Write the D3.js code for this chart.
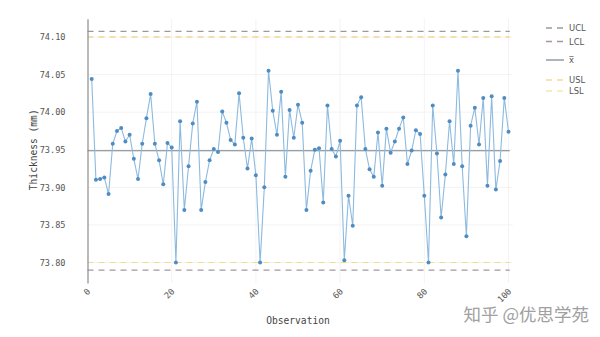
<!DOCTYPE html>
<html>
<head>
<meta charset="utf-8">
<script src="https://cdn.jsdelivr.net/npm/d3@7"></script>
<style>
  html, body { margin: 0; padding: 0; background: #fff; }
  svg { display: block; }
</style>
</head>
<body>
<svg id="chart" width="600" height="337"></svg>
<script>
// Thickness measurements for 100 consecutive observations (mm)
const observations = d3.range(1, 101);
const thickness = [
  74.044, 73.910, 73.911, 73.913, 73.891, 73.958, 73.975, 73.979, 73.961, 73.970,
  73.938, 73.911, 73.958, 73.992, 74.024, 73.958, 73.936, 73.904, 73.959, 73.953,
  73.800, 73.988, 73.870, 73.928, 73.985, 74.014, 73.870, 73.907, 73.936, 73.951,
  73.947, 74.001, 73.986, 73.963, 73.957, 74.025, 73.966, 73.925, 73.965, 73.916,
  73.800, 73.900, 74.055, 74.002, 73.970, 74.027, 73.914, 74.003, 73.966, 74.010,
  73.986, 73.870, 73.922, 73.950, 73.952, 73.880, 74.009, 73.951, 73.941, 73.962,
  73.803, 73.889, 73.849, 74.009, 74.020, 73.951, 73.924, 73.914, 73.973, 73.902,
  73.978, 73.946, 73.961, 73.978, 73.993, 73.931, 73.949, 73.976, 73.971, 73.889,
  73.800, 74.009, 73.945, 73.860, 73.917, 73.988, 73.931, 74.055, 73.928, 73.835,
  73.982, 74.006, 73.957, 74.019, 73.902, 74.021, 73.897, 73.935, 74.019, 73.974
];

// Control and specification limits
const limitNames  = ["UCL", "LCL", "x\u0305", "USL", "LSL"];
const limitValues = [74.1075, 73.7898, 73.9487, 74.10, 73.80];

const xTicks = [0, 20, 40, 60, 80, 100];
const yTicks = [73.80, 73.85, 73.90, 73.95, 74.00, 74.05, 74.10];

const svg = d3.select("#chart");

const x = d3.scaleLinear().domain([0, 100]).range([87.5, 508.5]);
const y = d3.scaleLinear().domain([73.7728, 74.1243]).range([283, 18.7]);

const mono = "'DejaVu Sans Mono', monospace";

// Light grid
const grid = svg.append("g");
grid.selectAll("line.gx").data(xTicks.slice(1)).join("line")
  .attr("x1", d => x(d)).attr("x2", d => x(d))
  .attr("y1", y.range()[1]).attr("y2", y.range()[0])
  .attr("stroke", "#f3f3f3").attr("stroke-width", 1);
grid.selectAll("line.gy").data(yTicks).join("line")
  .attr("x1", x(0)).attr("x2", x(101))
  .attr("y1", d => y(d)).attr("y2", d => y(d))
  .attr("stroke", "#f3f3f3").attr("stroke-width", 1);

// Limit lines
const limitStyle = {
  "UCL": { color: "#9a9a9a", dash: "6,5", width: 1.3 },
  "LCL": { color: "#a497a2", dash: "6,5", width: 1.3 },
  "x\u0305": { color: "#76828d", dash: null, width: 1.2 },
  "USL": { color: "#f0c860", dash: "6,5", width: 1.1 },
  "LSL": { color: "#ece08a", dash: "6,5", width: 1.1 }
};
const limits = limitNames.map((n, i) => ({ name: n, value: limitValues[i] }));

svg.append("g").selectAll("line").data(limits).join("line")
  .attr("x1", x(0)).attr("x2", x(100.3))
  .attr("y1", d => y(d.value)).attr("y2", d => y(d.value))
  .attr("stroke", d => limitStyle[d.name].color)
  .attr("stroke-width", d => limitStyle[d.name].width)
  .attr("stroke-dasharray", d => limitStyle[d.name].dash);

// Measurement series
const series = observations.map((o, i) => ({ o, v: thickness[i] }));
svg.append("path").datum(series)
  .attr("fill", "none")
  .attr("stroke", "#8dbadf")
  .attr("stroke-width", 1.1)
  .attr("d", d3.line().x(d => x(d.o)).y(d => y(d.v)));
svg.append("g").selectAll("circle").data(series).join("circle")
  .attr("cx", d => x(d.o)).attr("cy", d => y(d.v)).attr("r", 2)
  .attr("fill", "#4f8cc2");

// Y axis
const yAxis = svg.append("g").attr("transform", `translate(${x(0)},0)`)
  .call(d3.axisLeft(y).tickValues(yTicks).tickFormat(d3.format(".2f")).tickSize(0).tickPadding(22));
yAxis.select(".domain").attr("stroke", "#8c8c8c").attr("stroke-width", 1.2);
yAxis.selectAll("text").attr("font-family", mono).attr("font-size", 8.6).attr("fill", "#555");

// X axis (labels only, rotated)
const xAxis = svg.append("g").attr("transform", `translate(0,${y.range()[0]})`)
  .call(d3.axisBottom(x).tickValues(xTicks).tickFormat(d3.format("d")).tickSize(0).tickPadding(0));
xAxis.select(".domain").remove();
xAxis.selectAll("text")
  .attr("font-family", mono).attr("font-size", 8.6).attr("fill", "#555")
  .attr("text-anchor", "end")
  .attr("dy", null)
  .attr("transform", "translate(3,9) rotate(-45)");

// Axis titles
svg.append("text")
  .attr("x", (x(0) + x(100)) / 2).attr("y", 324)
  .attr("text-anchor", "middle")
  .attr("font-family", mono).attr("font-size", 9.6).attr("fill", "#444")
  .text("Observation");
svg.append("text")
  .attr("transform", `translate(37,${y(73.95)}) rotate(-90)`)
  .attr("text-anchor", "middle")
  .attr("font-family", mono).attr("font-size", 9.6).attr("fill", "#444")
  .text("Thickness (mm)");

// Legend
const legendY = [28, 41.5, 60, 80, 91];
const legend = svg.append("g").selectAll("g").data(limits).join("g")
  .attr("transform", (d, i) => `translate(546,${legendY[i]})`);
legend.append("line")
  .attr("x1", 0).attr("x2", 18).attr("y1", 0).attr("y2", 0)
  .attr("stroke", d => limitStyle[d.name].color)
  .attr("stroke-width", d => limitStyle[d.name].width)
  .attr("stroke-dasharray", d => limitStyle[d.name].dash ? "6,5" : null);
legend.append("text")
  .attr("x", 23).attr("y", 3)
  .attr("font-family", "'DejaVu Sans', sans-serif").attr("font-size", 8.4).attr("fill", "#555")
  .text(d => d.name);

// Byline
svg.append("text")
  .attr("x", 589).attr("y", 321)
  .attr("text-anchor", "end")
  .attr("font-family", "'Noto Sans CJK SC', sans-serif").attr("font-size", 17.5)
  .attr("fill", "#a0a0a0")
  .text("知乎 @优思学苑");
</script>
</body>
</html>
